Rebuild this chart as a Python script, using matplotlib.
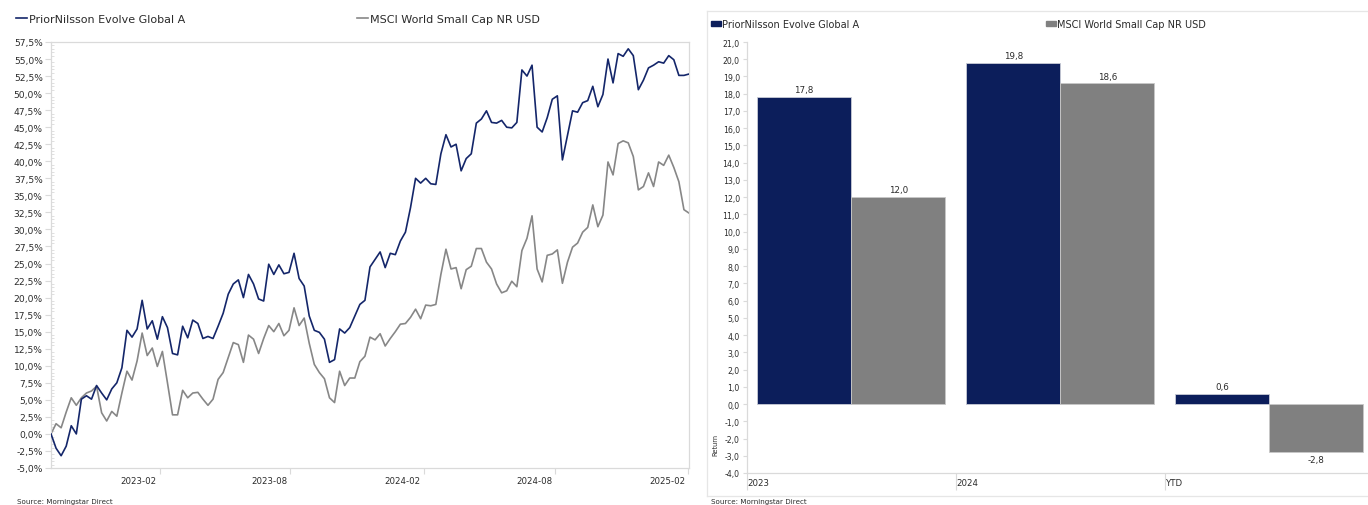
import numpy as np
import pandas as pd
import matplotlib
matplotlib.use("Agg")
import matplotlib.pyplot as plt
import matplotlib.dates as mdates
from matplotlib.lines import Line2D
from matplotlib.patches import Patch
from matplotlib.ticker import MultipleLocator, AutoMinorLocator, FuncFormatter
from matplotlib.transforms import ScaledTranslation, blended_transform_factory


# ---------------- data ----------------
FUND = "PriorNilsson Evolve Global A"
INDEX = "MSCI World Small Cap NR USD"

fund_cum = [
    0.0, -2.1, -3.2, -1.8, 1.2, 0.0, 5.1, 5.6, 5.1, 7.1,
    6.0, 5.0, 6.6, 7.5, 9.7, 15.2, 14.2, 15.4, 19.6, 15.4,
    16.6, 13.9, 17.2, 15.6, 11.8, 11.6, 15.8, 14.1, 16.7, 16.2,
    14.0, 14.3, 14.0, 15.8, 17.7, 20.5, 22.0, 22.6, 20.0, 23.4,
    22.0, 19.8, 19.5, 24.9, 23.4, 24.8, 23.5, 23.7, 26.5, 22.8,
    21.7, 17.3, 15.2, 14.9, 13.9, 10.5, 10.9, 15.4, 14.8, 15.6,
    17.3, 19.0, 19.6, 24.5, 25.6, 26.7, 24.4, 26.5, 26.3, 28.3,
    29.6, 33.2, 37.5, 36.8, 37.5, 36.7, 36.6, 41.1, 43.9, 42.1,
    42.5, 38.6, 40.4, 41.1, 45.6, 46.2, 47.4, 45.7, 45.6, 46.0,
    45.0, 44.9, 45.7, 53.4, 52.5, 54.1, 45.0, 44.3, 46.4, 49.1,
    49.6, 40.2, 43.8, 47.4, 47.2, 48.6, 48.9, 51.0, 48.0, 49.8,
    55.0, 51.5, 55.8, 55.4, 56.5, 55.5, 50.5, 51.9, 53.7, 54.1,
    54.6, 54.4, 55.5, 54.9, 52.6, 52.6, 52.8,
]

index_cum = [
    0.0, 1.5, 0.9, 3.2, 5.3, 4.2, 5.3, 6.0, 6.3, 7.0,
    3.1, 1.9, 3.3, 2.6, 6.0, 9.2, 7.9, 10.7, 14.8, 11.5,
    12.6, 9.9, 12.1, 7.5, 2.8, 2.8, 6.4, 5.3, 6.0, 6.1,
    5.1, 4.2, 5.1, 8.0, 9.0, 11.2, 13.4, 13.1, 10.5, 14.5,
    13.9, 11.8, 14.0, 15.9, 15.0, 16.2, 14.4, 15.2, 18.5, 15.9,
    17.0, 13.3, 10.2, 9.0, 8.1, 5.3, 4.6, 9.2, 7.1, 8.2,
    8.2, 10.6, 11.4, 14.2, 13.8, 14.7, 12.9, 14.0, 15.0, 16.1,
    16.2, 17.1, 18.3, 16.9, 18.9, 18.8, 19.0, 23.4, 27.1, 24.2,
    24.4, 21.3, 24.1, 24.6, 27.2, 27.2, 25.2, 24.2, 22.0, 20.7,
    21.0, 22.4, 21.6, 26.9, 28.7, 32.0, 24.2, 22.3, 26.2, 26.4,
    27.0, 22.1, 25.2, 27.4, 28.0, 29.6, 30.3, 33.6, 30.4, 32.1,
    39.9, 38.0, 42.6, 43.0, 42.7, 40.7, 35.8, 36.3, 38.3, 36.3,
    39.9, 39.4, 40.9, 39.1, 37.0, 32.9, 32.4,
]

dates = pd.date_range("2022-09-04", periods=len(fund_cum), freq="7D")
date_ticks = pd.to_datetime(["2023-02-01", "2023-08-01", "2024-02-01",
                             "2024-08-01", "2025-02-01"])

periods = ["2023", "2024", "YTD"]
fund_ret = [17.8, 19.8, 0.6]
index_ret = [12.0, 18.6, -2.8]


# ---------------- style ----------------
NAVY_LINE = "#14266A"
NAVY_BAR = "#0C1E5B"
GREY_LINE = "#878787"
GREY_BAR = "#808080"
FRAME = "#DADADA"
TXT = "#2B2B2B"

plt.rcParams["font.family"] = "DejaVu Sans"

W, H = 1368, 506
fig = plt.figure(figsize=(W / 100, H / 100), dpi=100)


def px(x0, y0, x1, y1):
    # pixel box -> figure fraction rect
    return [x0 / W, 1 - y1 / H, (x1 - x0) / W, (y1 - y0) / H]


def comma(v, dec=1, pct=False):
    s = f"{v:.{dec}f}".replace(".", ",")
    return s + ("%" if pct else "")


def one_legend(handle, label, x0, yc, size, **kw):
    lg = fig.legend([handle], [label], loc="center left",
                    bbox_to_anchor=(x0 / W, 1 - yc / H), frameon=False,
                    fontsize=size, borderpad=0, borderaxespad=0, **kw)
    for t in lg.get_texts():
        t.set_color(TXT)
    return lg


# ================= left: cumulative line chart =================
ax = fig.add_axes(px(51, 43, 689, 469))
ax.plot(dates, index_cum, color=GREY_LINE, lw=1.2, zorder=2)
ax.plot(dates, fund_cum, color=NAVY_LINE, lw=1.2, zorder=3)

ax.set_xlim(dates[0], dates[-1])
ax.set_ylim(-5, 57.5)
ax.yaxis.set_major_locator(MultipleLocator(2.5))
ax.yaxis.set_minor_locator(AutoMinorLocator(5))
ax.yaxis.set_major_formatter(FuncFormatter(lambda v, p: comma(v, 1, True)))

ax.set_xticks(date_ticks)
ax.xaxis.set_major_formatter(mdates.DateFormatter("%Y-%m"))

for s in ax.spines.values():
    s.set_color(FRAME)
    s.set_linewidth(0.9)

ax.tick_params(axis="y", which="major", length=4, color=FRAME, labelsize=6.6,
               labelcolor=TXT, pad=2)
ax.tick_params(axis="y", which="minor", length=2, direction="in", color=FRAME)
ax.tick_params(axis="x", length=4, color=FRAME, labelsize=6.2, labelcolor=TXT, pad=2)
for lab in ax.get_xticklabels():
    lab.set_ha("right")
    lab.set_transform(lab.get_transform()
                      + ScaledTranslation(-3 / 100, 0, fig.dpi_scale_trans))

one_legend(Line2D([], [], color=NAVY_LINE, lw=1.2), FUND, 16, 20, 8,
           handlelength=1.0, handletextpad=0.15)
one_legend(Line2D([], [], color=GREY_LINE, lw=1.2), INDEX, 357, 20, 8,
           handlelength=1.0, handletextpad=0.15)

fig.text(17 / W, 1 - 502 / H, "Source: Morningstar Direct", fontsize=5.1,
         color=TXT, va="center", ha="left")


# ================= right: calendar returns bars =================
# panel frame
for xs, ys in [((707, W), (12, 12)), ((707, 707), (12, 497)), ((707, W), (497, 497))]:
    fig.add_artist(Line2D([x / W for x in xs], [1 - y / H for y in ys],
                          color="#E6E6E6", lw=0.9))

bx = fig.add_axes(px(746.7, 43, W, 474))
x = np.arange(len(periods))
w = 0.45
b1 = bx.bar(x - w / 2, fund_ret, w, color=NAVY_BAR, edgecolor="#C9CCD6", lw=0.6, zorder=2)
b2 = bx.bar(x + w / 2, index_ret, w, color=GREY_BAR, edgecolor="#C8C8C8", lw=0.6, zorder=2)
bx.bar_label(b1, labels=[comma(v) for v in fund_ret], padding=2, fontsize=6.3, color=TXT)
bx.bar_label(b2, labels=[comma(v) for v in index_ret], padding=2, fontsize=6.3, color=TXT)

bx.set_xlim(-0.5, -0.5 + (W - 746.7) / 209)
bx.set_ylim(-4, 21)
bx.yaxis.set_major_locator(MultipleLocator(1))
bx.yaxis.set_major_formatter(FuncFormatter(lambda v, p: comma(v)))
bx.tick_params(axis="y", length=3, color=FRAME, labelsize=5.6, labelcolor=TXT, pad=2)

bx.set_xticks(x - 0.5)
bx.set_xticklabels([])
bx.tick_params(axis="x", length=12, color=FRAME)
tr = blended_transform_factory(bx.transData, bx.transAxes)
for i, p in enumerate(periods):
    bx.text(i - 0.5 + 0.004, -0.022, p, transform=tr, ha="left", va="center",
            fontsize=6.2, color=TXT)

for side in ("top", "right"):
    bx.spines[side].set_visible(False)
for side in ("left", "bottom"):
    bx.spines[side].set_color(FRAME)
    bx.spines[side].set_linewidth(0.9)

fig.text(715 / W, 1 - 445 / H, "Return", rotation=90, fontsize=4.8, color=TXT,
         ha="center", va="center")

one_legend(Patch(color=NAVY_BAR), FUND, 711, 25, 7,
           handlelength=1.05, handleheight=0.5, handletextpad=0.1)
one_legend(Patch(color=GREY_BAR), INDEX, 1046, 25, 7,
           handlelength=1.05, handleheight=0.5, handletextpad=0.1)

fig.text(711 / W, 1 - 502 / H, "Source: Morningstar Direct", fontsize=5.1,
         color=TXT, va="center", ha="left")

fig.savefig("out.png", dpi=100)
